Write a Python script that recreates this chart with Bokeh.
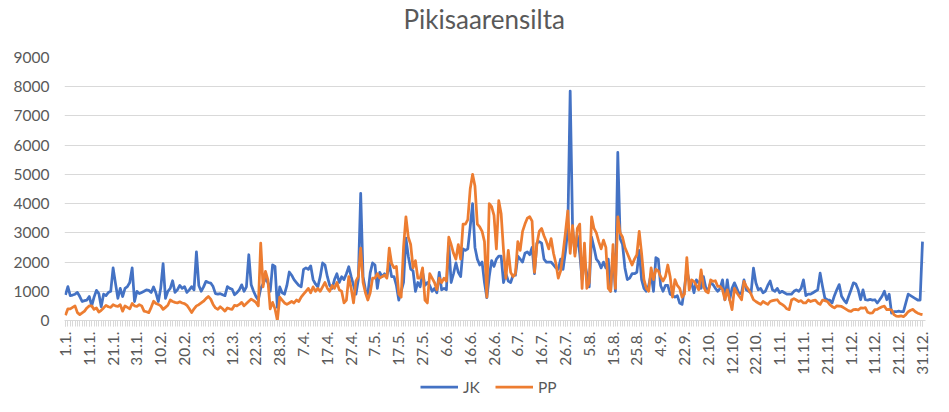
import math
from bokeh.plotting import figure
from bokeh.layouts import column
from bokeh.models import Range1d, FixedTicker, Legend, LegendItem, Label
from bokeh.embed import file_html
from bokeh.resources import INLINE

title_text = "Pikisaarensilta"
series_names = ["JK", "PP"]
series_colors = ["#4472C4", "#ED7D31"]

x_tick_labels = ["1.1.", "11.1.", "21.1.", "31.1.", "10.2.", "20.2.", "2.3.", "12.3.",
                 "22.3.", "28.3.", "7.4.", "17.4.", "27.4.", "7.5.", "17.5.", "27.5.",
                 "6.6.", "16.6.", "26.6.", "6.7.", "16.7.", "26.7.", "5.8.", "15.8.",
                 "25.8.", "4.9.", "22.9.", "2.10.", "12.10.", "22.10.", "1.11.", "11.11.",
                 "21.11.", "1.12.", "11.12.", "21.12.", "31.12."]
label_every = 10
y_tick_values = [0, 1000, 2000, 3000, 4000, 5000, 6000, 7000, 8000, 9000]

jk = [
    880, 1160, 850, 870, 900, 960, 820, 650, 680, 700,
    820, 500, 800, 1030, 920, 470, 900, 850, 960, 1000,
    1800, 1270, 760, 1100, 820, 1100, 1160, 1300, 1800, 650,
    1000, 920, 960, 1000, 1050, 1030, 960, 1150, 940, 650,
    1100, 1950, 760, 1000, 1100, 1360, 960, 1050, 1200, 1100,
    1160, 960, 1050, 1160, 1050, 2350, 1200, 1000, 1150, 1340,
    1300, 1280, 1160, 920, 900, 920, 880, 850, 1160, 1100,
    1070, 880, 950, 1050, 1220, 1000, 1150, 2250, 1220, 1000,
    820, 700, 1100, 1250, 1450, 1300, 1000, 1900, 1850, 450,
    1150, 950, 900, 1200, 1660, 1550, 1400, 1300, 1200, 1150,
    1750, 1800, 1750, 1870, 1400, 1250, 1150, 1500, 1970, 1900,
    1500, 1200, 1100, 1400, 1600, 1300, 1500, 1400, 1600, 1840,
    1500, 1200, 900, 1400, 4350, 1500, 1050, 900, 1630, 1970,
    1900, 1100, 1650, 1500, 1600, 1500, 1970, 1500, 1500, 1200,
    700, 1000, 1300, 2820, 2200, 1760, 1700, 1000, 1300, 1150,
    1650, 1200, 1300, 1200, 1000, 1100, 950, 1650, 1050, 1100,
    1050, 2640, 1300, 1600, 1970, 1650, 1500, 2450, 2400, 2450,
    3200, 4000, 2500, 2100, 1900, 2000, 1300, 780, 1500, 2050,
    1850, 2100, 2200, 2200, 1300, 1600, 1350, 1300, 1550, 1550,
    2200, 2100, 2000, 2300, 2350, 2250, 2500, 1600, 2650, 2700,
    2650, 2100, 2000, 2000, 2000, 1900, 1800, 1750, 2100, 1750,
    2350, 3100, 7850, 3200, 2300, 2900, 2300, 1400, 2000, 1600,
    1150, 2850, 2500, 2100, 2000, 1800, 2000, 1800, 2100, 1000,
    2300, 1000, 5750, 2800, 2600, 1800, 1400, 1450, 1600, 1600,
    1650, 2400, 1400, 1100, 1000, 1200, 1600, 1000, 2150, 2100,
    1200, 1000, 1200, 1200, 900, 850, 800, 850, 600, 550,
    1100, 1730, 1340, 1290, 950, 1390, 1290, 1100, 1500, 1100,
    1050, 1290, 1230, 1100, 1000, 1100, 1390, 710, 1390, 710,
    1100, 1290, 1100, 900, 950, 1390, 1050, 1000, 950, 1790,
    1290, 1050, 1100, 950, 1000, 1200, 1350, 1050, 1000, 1100,
    950, 1000, 950, 900, 900, 900, 1000, 1050, 1000, 1100,
    1390, 850, 900, 900, 950, 1000, 1050, 1620, 1165, 760,
    710, 700, 600, 850, 1050, 1230, 830, 700, 600, 830,
    1050, 1290, 1250, 1050, 710, 1050, 710, 700, 720, 700,
    710, 600, 710, 830, 1000, 710, 900, 250, 300, 300,
    320, 300, 300, 600, 900, 850, 800, 750, 700, 700,
    2700,
]

pp = [
    180, 400, 400, 450, 500, 270, 200, 260, 320, 430,
    500, 500, 380, 430, 290, 350, 430, 520, 470, 450,
    540, 500, 480, 540, 320, 500, 450, 400, 580, 500,
    480, 540, 500, 320, 300, 270, 450, 660, 580, 550,
    500, 380, 450, 520, 700, 650, 620, 600, 640, 600,
    580, 520, 400, 270, 400, 500, 540, 600, 660, 750,
    820, 730, 550, 430, 380, 470, 400, 320, 430, 400,
    380, 520, 500, 550, 620, 500, 580, 660, 730, 680,
    620, 500, 2650, 1150, 1680, 1400, 400, 620, 400, 0,
    800, 700, 600, 550, 600, 650, 600, 700, 650, 800,
    900, 1000, 1100, 950, 1150, 1000, 1100, 1000, 1150, 1300,
    1100, 1000, 1200, 1100, 1300, 1050, 1000, 600, 700, 1500,
    1100, 600, 1350, 1500, 2480, 1300, 950, 700, 950, 1450,
    1450, 1600, 1450, 1500, 1550, 1450, 2480, 1950, 1800, 1850,
    900, 800, 2500, 3550, 2850, 2600, 1800, 2050, 1450, 1450,
    1800, 700, 600, 1600, 1450, 1300, 1050, 1450, 1300, 1450,
    1350, 2850, 2600, 2300, 2100, 2600, 2100, 3300, 3300, 3450,
    4500, 5000, 4600, 3300, 3200, 3050, 2700, 800, 4000, 3900,
    3600, 2450, 4100, 3650, 2400, 1450, 2400, 1650, 1500, 1600,
    2700, 2400, 3050, 3300, 3500, 3550, 3400, 1650, 2600, 3050,
    3150, 2900, 2700, 2450, 2800, 2300, 1950, 1450, 1700, 2300,
    3000, 3750, 2300, 3250, 2200, 3150, 3300, 1100, 2650, 1100,
    1300, 3550, 3150, 3000, 2700, 2450, 2750, 2500, 1100, 1000,
    2600, 1100, 3550, 3000, 2850, 2500, 2300, 2100, 1900, 2100,
    2250, 3050, 2300, 1400, 1100, 1000, 1800, 1400, 1750, 1700,
    1500, 1350, 1500, 1900, 1500, 800, 1400, 1200, 1100, 800,
    900, 2150, 1050, 1390, 1340, 1200, 1050, 1730, 1165, 1000,
    950, 1390, 1340, 1360, 1165, 1165, 1050, 710, 1050, 710,
    370, 1100, 950, 830, 710, 1340, 1165, 1050, 900, 710,
    650, 600, 550, 650, 600, 550, 650, 680, 700, 710,
    600, 550, 490, 400, 370, 700, 750, 700, 650, 680,
    600, 600, 700, 650, 680, 700, 600, 550, 700, 680,
    650, 550, 480, 430, 500, 490, 480, 430, 380, 330,
    310, 370, 380, 360, 430, 420, 440, 280, 250, 260,
    370, 380, 430, 470, 490, 370, 380, 360, 200, 150,
    140, 160, 130, 200, 300, 350, 380, 300, 250, 220,
    200,
]

days = list(range(len(jk)))
tick_positions = [i * label_every for i in range(len(x_tick_labels))]
series_values = [jk, pp]

FONT = "Lato"
TEXT_COLOR = "#595959"
GRID_COLOR = "#d9d9d9"
W = 933
BL, BR = 64, 8

def strip(height, xr=None, yr=None):
    f = figure(width=W, height=height, output_backend="svg", toolbar_location=None,
               x_range=xr or Range1d(0, 1), y_range=yr or Range1d(0, 1),
               x_axis_type=None, y_axis_type=None,
               min_border_left=BL, min_border_right=BR, min_border_top=0, min_border_bottom=0)
    f.outline_line_color = None
    f.xgrid.grid_line_color = None
    f.ygrid.grid_line_color = None
    return f

# title strip
tf = strip(33)
tf.add_layout(Label(x=339, y=15, x_units="screen", y_units="screen", text=title_text,
                    text_align="left", text_baseline="alphabetic", text_font=FONT,
                    text_font_size="26px", text_color=TEXT_COLOR))

# main chart
p = figure(width=W, height=344, output_backend="svg", toolbar_location=None,
           x_range=Range1d(-0.42, days[-1] + 1.26), y_range=Range1d(0, 9000),
           min_border_left=BL, min_border_right=BR, min_border_top=24, min_border_bottom=56)
p.outline_line_color = None

p.xgrid.grid_line_color = None
p.ygrid.ticker = FixedTicker(ticks=y_tick_values)
p.ygrid.grid_line_color = GRID_COLOR
p.ygrid.grid_line_width = 1

xa = p.xaxis[0]
xa.ticker = FixedTicker(ticks=tick_positions, minor_ticks=days)
xa.major_label_overrides = {pos: lab for pos, lab in zip(tick_positions, x_tick_labels)}
xa.axis_line_color = GRID_COLOR
xa.major_tick_line_color = GRID_COLOR
xa.minor_tick_line_color = GRID_COLOR
xa.major_tick_in = 0
xa.minor_tick_in = 0
xa.major_tick_out = 6
xa.minor_tick_out = 6
xa.major_label_orientation = math.pi / 2
xa.major_label_standoff = 5
xa.major_label_text_font = FONT
xa.major_label_text_font_size = "15.5px"
xa.major_label_text_color = TEXT_COLOR

ya = p.yaxis[0]
ya.ticker = FixedTicker(ticks=y_tick_values)
ya.axis_line_color = None
ya.major_tick_line_color = None
ya.minor_tick_line_color = None
ya.major_tick_in = 0
ya.major_tick_out = 0
ya.minor_tick_in = 0
ya.minor_tick_out = 0
ya.major_label_standoff = 15
ya.major_label_text_font = FONT
ya.major_label_text_font_size = "15.5px"
ya.major_label_text_color = TEXT_COLOR

for vals, col in zip(series_values, series_colors):
    p.line(days, vals, line_color=col, line_width=2.75, line_join="round")

# legend strip (series drawn out of view, only the legend samples show)
lg = strip(19, xr=Range1d(0, days[-1]), yr=Range1d(-20000, -10000))
items = []
for name, vals, col in zip(series_names, series_values, series_colors):
    r = lg.line(days, vals, line_color=col, line_width=2.75)
    items.append(LegendItem(label=name, renderers=[r]))
legend = Legend(items=items, orientation="horizontal", location=(420 - BL, 0),
                padding=0, margin=0, spacing=12, glyph_width=38, glyph_height=19,
                label_height=19, label_standoff=5,
                label_text_font=FONT, label_text_font_size="15.5px", label_text_color=TEXT_COLOR,
                border_line_color=None, background_fill_alpha=0)
lg.add_layout(legend)

open("out.html", "w").write(file_html(column(tf, p, lg, spacing=0), INLINE))
